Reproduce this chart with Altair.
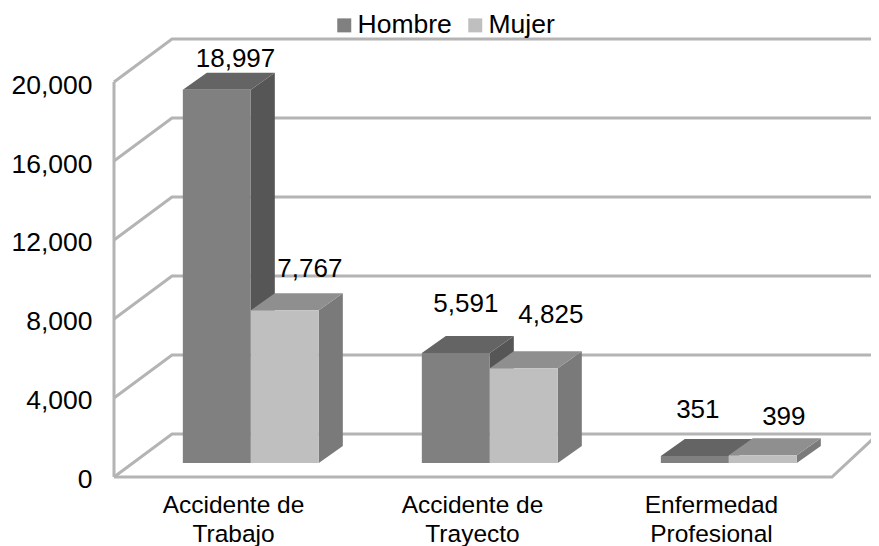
import altair as alt
import pandas as pd

# ---- chart values ----
categories = ["Accidente de\nTrabajo", "Accidente de\nTrayecto", "Enfermedad\nProfesional"]
hombre = [18997, 5591, 351]
mujer = [7767, 4825, 399]
y_ticks = [0, 4000, 8000, 12000, 16000, 20000]

# ---- pseudo-3D geometry, in axis units ----
WALL_DX, WALL_DV = 0.2427, 2177      # depth of the walls
BAR_DX, BAR_DV = 0.1004, 861         # depth of a bar
BAR_BASE = 709                       # bars stand on the floor, behind the front edge
BAR_K = 0.995                        # the bars sit further back, so they look a little smaller
BAR_START, BAR_W = 0.288, 0.2845
FLOOR_END, FLOOR_BACK = 3.004, 3.197
X_MAX = 757 / 239
X_DOMAIN = [0, X_MAX]
Y_DOMAIN = [-3494, 23747]
FONT = "Liberation Sans"

# label placement relative to the bar (hand placed in the original)
label_dx = [[0.2205, 0.1841, 0.1548], [0.2469, 0.2552, 0.2301]]
label_dv = [[304, 1215, 1063], [810, 1418, 658]]

series = [("Hombre", hombre), ("Mujer", mujer)]
fronts, sides, tops, labels = [], [], [], []
for s, (name, vals) in enumerate(series):
    for i, v in enumerate(vals):
        x0 = i + BAR_START + s * BAR_W
        x1 = x0 + BAR_W
        top = BAR_BASE + v * BAR_K
        fronts.append(dict(s=name, x=x0, x2=x1, y=BAR_BASE, y2=top))
        sides.append(dict(s=name, id=i, x=x1, y=BAR_BASE, y2=top))
        sides.append(dict(s=name, id=i, x=x1 + BAR_DX, y=BAR_BASE + BAR_DV, y2=top + BAR_DV))
        tops.append(dict(s=name, id=i, y=top, x=x0, x2=x1))
        tops.append(dict(s=name, id=i, y=top + BAR_DV, x=x0 + BAR_DX, x2=x1 + BAR_DX))
        labels.append(dict(t=f"{v:,}", x=x0 + label_dx[s][i], y=top + BAR_DV + label_dv[s][i]))
fronts, sides, tops, labels = map(pd.DataFrame, (fronts, sides, tops, labels))

grid = []
for t in y_ticks:
    grid += [dict(id=f"g{t}", x=0, y=t),
             dict(id=f"g{t}", x=WALL_DX, y=t + WALL_DV),
             dict(id=f"g{t}", x=X_MAX, y=t + WALL_DV)]
grid += [dict(id="front", x=0, y=0), dict(id="front", x=FLOOR_END, y=0),
         dict(id="front", x=FLOOR_BACK, y=WALL_DV)]
grid += [dict(id="left", x=0, y=0), dict(id="left", x=0, y=y_ticks[-1])]
grid = pd.DataFrame(grid)

cats = pd.DataFrame(dict(t=categories, x=[i + 0.5 for i in range(3)], y=[-1826] * 3))

xs = alt.Scale(domain=X_DOMAIN, nice=False, zero=False)
ys = alt.Scale(domain=Y_DOMAIN, nice=False, zero=False)
y_axis = alt.Axis(values=y_ticks, labelExpr="format(datum.value, ',d')", domain=False, ticks=False,
                  grid=False, title=None, labelPadding=22, labelOffset=3, labelFont=FONT,
                  labelFontSize=26.5, labelColor="#000000")
X = alt.X("x:Q", scale=xs, axis=None)
Y = alt.Y("y:Q", scale=ys, axis=y_axis)

grid_layer = alt.Chart(grid).mark_line(color="#b4b4b4", strokeWidth=3, clip=False).encode(
    x=X, y=Y, detail="id:N")

color = alt.Color("s:N", title=None, scale=alt.Scale(domain=["Hombre", "Mujer"], range=["#808080", "#bfbfbf"]),
                  legend=alt.Legend(orient="none", legendX=217, legendY=4, direction="horizontal",
                                    symbolType="square", symbolSize=196, symbolStrokeWidth=0,
                                    labelFont=FONT, labelFontSize=26.5, labelColor="#000000",
                                    columnPadding=10, labelOffset=0, padding=0))


def bar_layers(name, side_color, top_color):
    side = alt.Chart(sides[sides.s == name]).mark_area(color=side_color, orient="vertical").encode(
        x=X, y=Y, y2="y2:Q", detail="id:N")
    topf = alt.Chart(tops[tops.s == name]).mark_area(color=top_color, orient="horizontal").encode(
        x=X, x2="x2:Q", y=Y, detail="id:N")
    front = alt.Chart(fronts[fronts.s == name]).mark_rect().encode(
        x=X, x2="x2:Q", y=Y, y2="y2:Q", color=color)
    return [side, topf, front]


label_layer = alt.Chart(labels).mark_text(font=FONT, fontSize=26, color="#000000", baseline="alphabetic").encode(
    x=X, y=Y, text="t:N")
cat_layer = alt.Chart(cats).mark_text(font=FONT, fontSize=24.5, color="#000000", baseline="alphabetic",
                                      lineBreak="\n", lineHeight=29).encode(x=X, y=Y, text="t:N")

chart = alt.layer(
    grid_layer,
    *bar_layers("Hombre", "#565656", "#646464"),
    *bar_layers("Mujer", "#7a7a7a", "#8f8f8f"),
    label_layer,
    cat_layer,
).properties(
    width=757, height=538,
    padding={"left": 106, "top": 0, "right": 0, "bottom": 0},
    autosize=alt.AutoSizeParams(type="none"),
).configure_view(stroke=None)

chart.save("out.html", embed_options={"renderer": "svg", "actions": False})
